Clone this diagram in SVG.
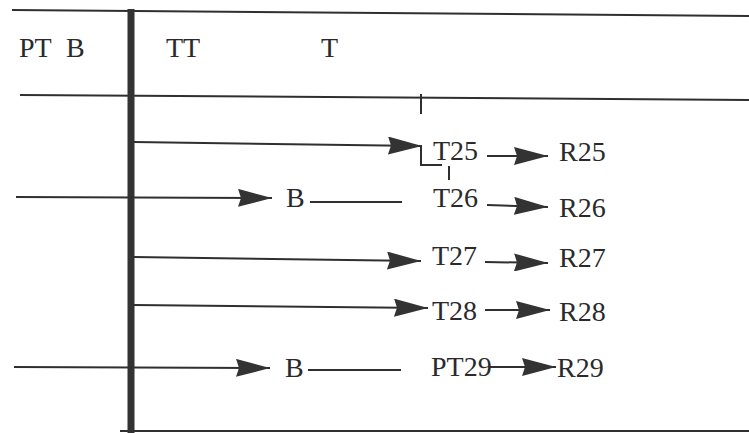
<svg xmlns="http://www.w3.org/2000/svg" width="749" height="433" viewBox="0 0 749 433">
<style>
.t{font-family:"Liberation Serif","Times New Roman",serif;font-size:28px;fill:#2a2a2a}
.l{stroke:#2f2f2f;stroke-width:2;fill:none}
.a{stroke:#2f2f2f;stroke-width:2;fill:none;marker-end:url(#ah)}
</style>
<defs>
<marker id="ah" markerUnits="userSpaceOnUse" markerWidth="36" markerHeight="18" refX="34" refY="9" orient="auto">
<path d="M0,0 L34,9 L0,18 L3,9 Z" fill="#333"/>
</marker>
</defs>
<rect width="749" height="433" fill="#fff"/>
<g id="frame">
<line class="l" x1="12" y1="10" x2="749" y2="16"/>
<line class="l" x1="20" y1="95" x2="749" y2="100"/>
<line class="l" x1="120" y1="431" x2="749" y2="431"/>
<line x1="131" y1="9" x2="131" y2="433" stroke="#333" stroke-width="7"/>
<line class="l" x1="421" y1="94" x2="421" y2="114"/>
</g>
<g id="header">
<text class="t" x="19" y="57">PT</text>
<text class="t" x="66" y="57">B</text>
<text class="t" x="166" y="57">TT</text>
<text class="t" x="321" y="57">T</text>
</g>
<g id="connectors">
<line class="a" x1="134" y1="142" x2="422" y2="146"/>
<path class="l" d="M421,145 V165 H442"/>
<line class="l" x1="449" y1="166" x2="449" y2="180"/>
<line class="a" x1="487" y1="156" x2="548" y2="156"/>
<line class="a" x1="16" y1="197" x2="272" y2="198"/>
<line class="l" x1="310" y1="202" x2="402" y2="202"/>
<line class="a" x1="487" y1="205" x2="548" y2="207"/>
<line class="a" x1="134" y1="257" x2="421" y2="261"/>
<line class="a" x1="485" y1="262" x2="548" y2="263"/>
<line class="a" x1="134" y1="305" x2="428" y2="308"/>
<line class="a" x1="485" y1="310" x2="550" y2="310"/>
<line class="a" x1="14" y1="367" x2="270" y2="368"/>
<line class="l" x1="308" y1="370" x2="401" y2="370"/>
<line class="a" x1="490" y1="367" x2="556" y2="367"/>
</g>
<g id="n25"><text class="t" x="433" y="160">T25</text></g>
<g id="r25"><text class="t" x="559" y="161">R25</text></g>
<g id="b1"><text class="t" x="286" y="207">B</text></g>
<g id="n26"><text class="t" x="433" y="207">T26</text></g>
<g id="r26"><text class="t" x="559" y="217">R26</text></g>
<g id="n27"><text class="t" x="432" y="265">T27</text></g>
<g id="r27"><text class="t" x="559" y="267">R27</text></g>
<g id="n28"><text class="t" x="432" y="320">T28</text></g>
<g id="r28"><text class="t" x="559" y="321">R28</text></g>
<g id="b2"><text class="t" x="285" y="377">B</text></g>
<g id="n29"><text class="t" x="431" y="376">PT29</text></g>
<g id="r29"><text class="t" x="557" y="377">R29</text></g>
</svg>
